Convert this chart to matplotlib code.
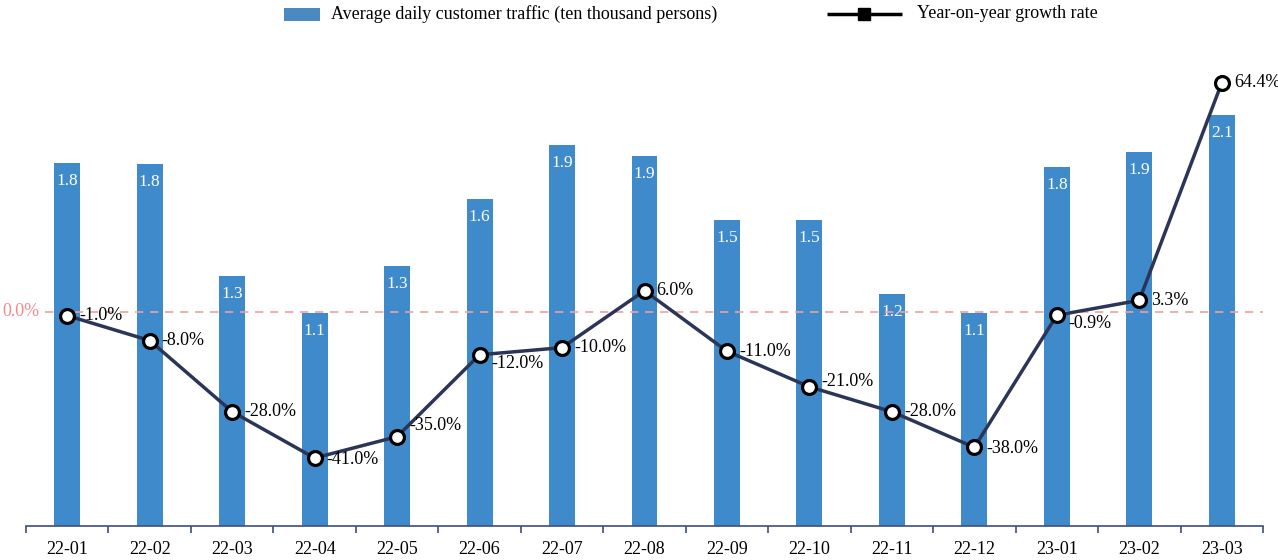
import matplotlib
matplotlib.use("Agg")
import matplotlib.pyplot as plt
from matplotlib.patches import Rectangle

months = ["22-01", "22-02", "22-03", "22-04", "22-05", "22-06", "22-07", "22-08",
          "22-09", "22-10", "22-11", "22-12", "23-01", "23-02", "23-03"]
traffic = [1.852, 1.847, 1.276, 1.087, 1.327, 1.668, 1.944, 1.888, 1.561, 1.561, 1.184, 1.087, 1.832, 1.908, 2.097]
traffic_labels = ["1.8", "1.8", "1.3", "1.1", "1.3", "1.6", "1.9", "1.9",
                  "1.5", "1.5", "1.2", "1.1", "1.8", "1.9", "2.1"]
growth = [-1.0, -8.0, -28.0, -41.0, -35.0, -12.0, -10.0, 6.0, -11.0, -21.0, -28.0, -38.0, -0.9, 3.3, 64.4]
# vertical label offsets (pixels, up positive) for growth labels
growth_label_dy = [0, 0, 0, -1, 11, -9, 0, 0, 0, 5, 0, -1, -8, 0, 0]
legend_labels = ["Average daily customer traffic (ten thousand persons)", "Year-on-year growth rate"]

plt.rcParams['font.family'] = ['Liberation Serif', 'DejaVu Serif']

W, H = 1278, 560
fig = plt.figure(figsize=(W / 100, H / 100), dpi=100)
L, R, B, T = 26, 1263, 526, 60
ax = fig.add_axes([L / W, 1 - B / H, (R - L) / W, (B - T) / H])
ax2 = ax.twinx()

bar_color = "#3F8ACA"
line_color = "#2B3558"
axis_color = "#3D4F75"

x = list(range(len(months)))
ax.bar(x, traffic, width=0.315, color=bar_color, zorder=2)
ax.set_xlim(-0.5, len(months) - 0.5)
ax.set_ylim(0, (B - T) / 196)

for xi, v, lab in zip(x, traffic, traffic_labels):
    ax.annotate(lab, (xi, v), xytext=(0, -18), textcoords="offset pixels",
                ha="center", va="center", color="white", fontsize=12.5)

ax2.set_ylim(-60.1, 70.8)
ax2.axhline(0, xmin=19 / (R - L), xmax=1, color="#F0A0A0", lw=1.2,
            linestyle=(0, (5, 4)), zorder=1)
fig.text(2 / W, 1 - 312 / H, "0.0%", color="#F08A8A", fontsize=13,
         ha="left", va="center")

ax2.plot(x, growth, color=line_color, lw=2.5, zorder=3,
         marker="o", markersize=10, markerfacecolor="white",
         markeredgecolor="black", markeredgewidth=2.3)
for xi, g, dy in zip(x, growth, growth_label_dy):
    ax2.annotate(f"{g:.1f}%", (xi, g), xytext=(12, dy), textcoords="offset pixels",
                 ha="left", va="center", color="black", fontsize=13, zorder=4)

for a in (ax, ax2):
    for s in ("top", "right", "left"):
        a.spines[s].set_visible(False)
    a.set_yticks([])
ax2.spines["bottom"].set_visible(False)
ax.spines["bottom"].set_color(axis_color)
ax.spines["bottom"].set_linewidth(1.2)

ax.set_xticks(x)
ax.set_xticklabels(months, fontsize=13)
ax.tick_params(axis="x", which="major", length=0, pad=11, colors="black")
ax.set_xticks([i - 0.5 for i in range(len(months) + 1)], minor=True)
ax.tick_params(axis="x", which="minor", length=5, width=1.2, color=axis_color)

# legend drawn in an overlay axes in figure pixel coordinates
lg = fig.add_axes([0, 0, 1, 1], zorder=5)
lg.set_xlim(0, W)
lg.set_ylim(H, 0)
lg.axis("off")
lg.add_patch(Rectangle((284, 8), 36, 13, facecolor="#4A8AC0", edgecolor="none"))
lg.text(331, 14, legend_labels[0], fontsize=13, ha="left", va="center")
lg.plot([827, 902], [14, 14], color="black", lw=2.5, solid_capstyle="butt")
lg.plot([864], [14], marker="s", markersize=8, color="black")
lg.text(917, 14, legend_labels[1], fontsize=13, ha="left", va="center")

fig.savefig("out.png", dpi=100)
